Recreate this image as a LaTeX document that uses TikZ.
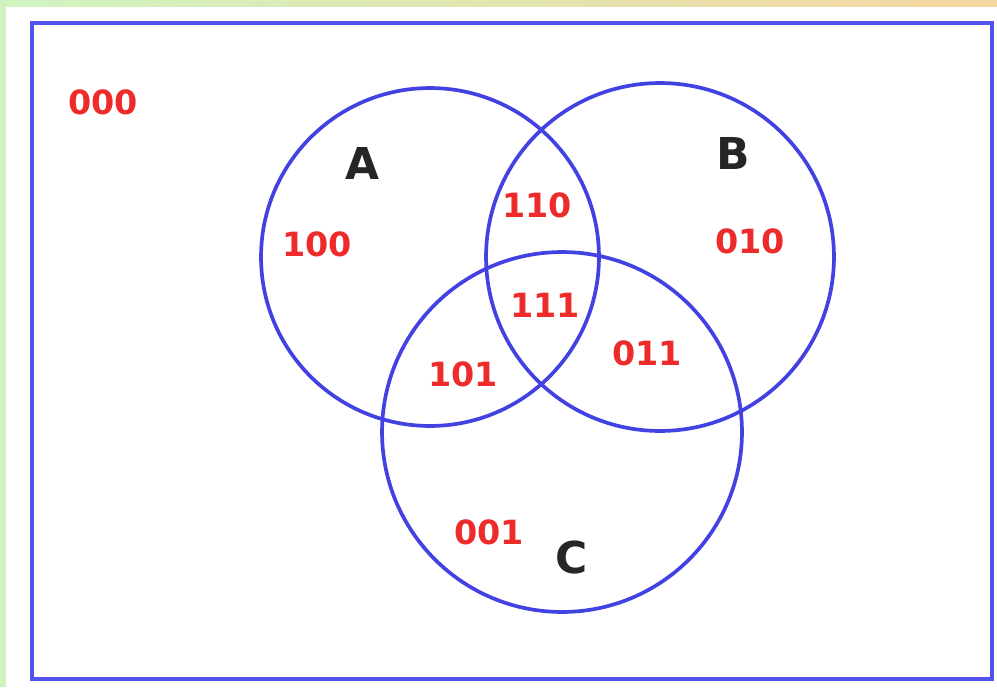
\documentclass[tikz,border=0pt]{standalone}
\usepackage{fontspec}
\setmainfont{DejaVu Sans}
\usepackage{xcolor}
\usetikzlibrary{positioning}
\definecolor{setblue}{HTML}{4242E2}
\definecolor{frameblue}{HTML}{5252EC}
\definecolor{codered}{HTML}{EE2B2B}
\definecolor{leafgreen}{HTML}{CFF4C0}
\definecolor{peach}{HTML}{F6D6A0}
\tikzset{
  setcirc/.style={circle, draw=setblue, line width=2.1pt, inner sep=0pt,
                  outer sep=0pt, minimum size=#1},
  code/.style={font=\fontsize{19}{20}\selectfont\bfseries, text=codered,
               inner sep=0pt},
  setname/.style={font=\fontsize{25}{28}\selectfont\bfseries, text=black!85,
                  inner sep=0pt},
}

\begin{document}
\begin{tikzpicture}[x=0.02cm, y=-0.02cm]
\useasboundingbox (0,0) rectangle (997,687);
% page edge strips
\fill[leafgreen] (0,0) rectangle (6,687);
\shade[left color=leafgreen, right color=peach] (0,0) rectangle (997,6);
% universe
\draw[frameblue, line width=2.4pt] (32,23) rectangle (992,679);
% the three sets
\node[setcirc=6.76cm] (A) at (430,257) {};
\node[setcirc=6.96cm] (B) at (660,257) {};
\node[setcirc=7.2cm]  (C) at (562,432) {};
\node[setname] (la) at (362,163) {A};
\node[setname] (lb) at (733,153) {B};
\node[setname] (lc) at (572,557) {C};
% region codes
\node[code] (c000) at (103,102) {000};
\node[code] (c100) at (317,244) {100};
\node[code] (c110) at (537,205) {110};
\node[code] (c010) at (750,241) {010};
\node[code] (c111) at (545,305) {111};
\node[code] (c011) at (647,353) {011};
\node[code] (c101) at (463,374) {101};
\node[code] (c001) at (489,532) {001};
\end{tikzpicture}
\end{document}
